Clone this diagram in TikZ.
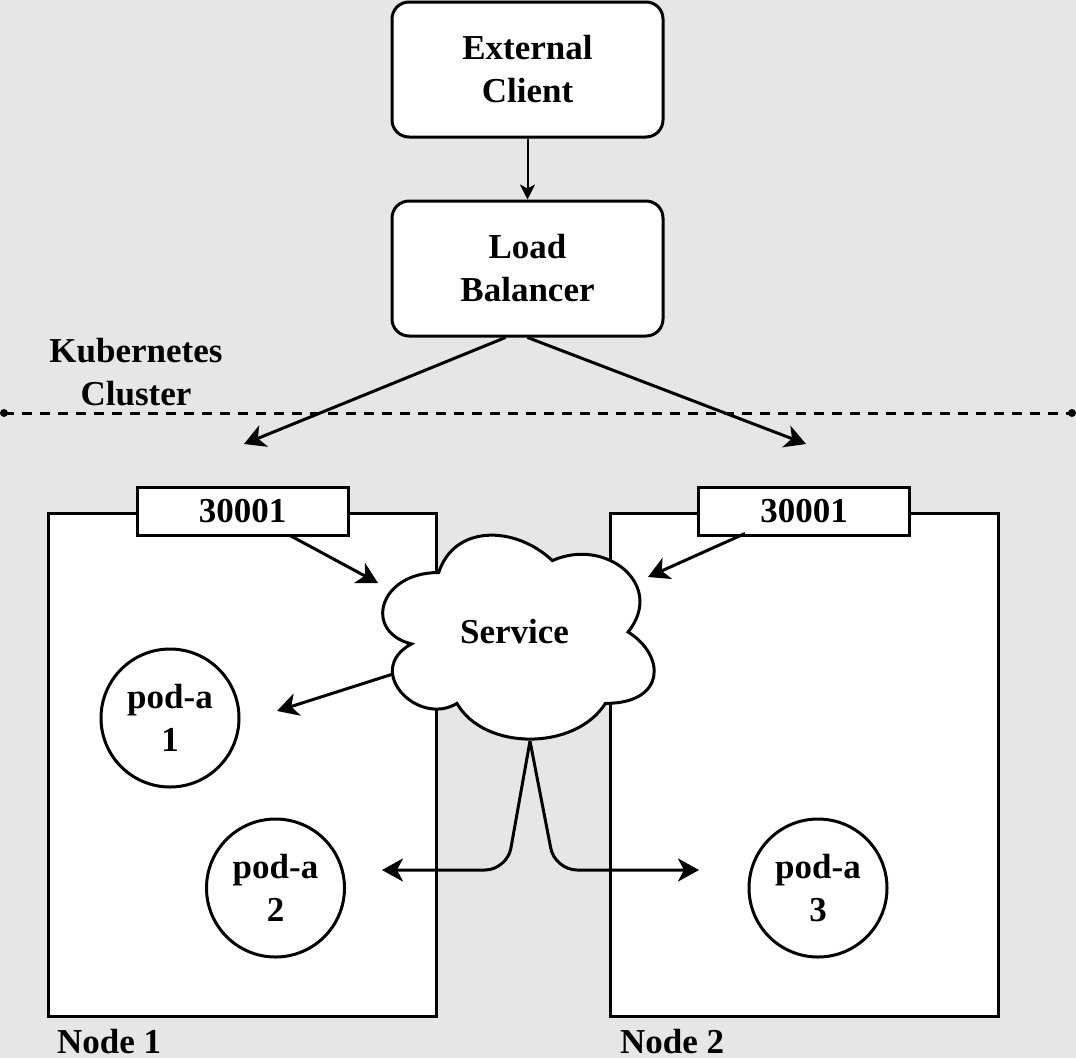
\documentclass[tikz,border=0pt]{standalone}
\usepackage{fontspec}
\setmainfont{Liberation Serif}
\usetikzlibrary{arrows.meta}
\definecolor{bgc}{HTML}{E6E6E6}
\begin{document}
\begin{tikzpicture}[x=1pt,y=-1pt,
  txt/.style={font=\fontsize{35}{43}\selectfont\bfseries, align=center, inner sep=0pt},
  box/.style={draw, line width=3pt, fill=white},
  rbox/.style={box, txt, rounded corners=17pt, minimum width=271pt, minimum height=135pt},
  nodebox/.style={box, minimum width=388pt, minimum height=503pt},
  portbox/.style={box, txt, minimum width=211pt, minimum height=48pt},
  pod/.style={box, txt, circle, minimum size=138pt},
  arr/.style={line width=3pt, -{Stealth[length=21pt,width=23pt,inset=6pt]}},
  thinarr/.style={line width=2pt, -{Stealth[length=15pt,width=15pt,inset=4pt]}},
  lbl/.style={txt, anchor=base west}]
\useasboundingbox (0,0) rectangle (1076,1058);
\fill[bgc] (0,0) rectangle (1076,1058);

% top boxes
\node[rbox] (ec) at (527.5,69.5) {External\\Client};
\node[rbox] (lb) at (527.5,268.5) {Load\\Balancer};
\draw[thinarr] (ec.south) -- (lb.north);

% cluster label and boundary
\node[txt] (kc) at (136,372) {Kubernetes\\Cluster};
\coordinate (dl) at (4,413);
\coordinate (dr) at (1072,413);
\draw[line width=3pt, dash pattern=on 10pt off 8pt] (dl) -- (dr);
\fill (dl) circle (4pt);
\fill (dr) circle (4pt);

% worker nodes
\node[nodebox] (n1) at (242,764.5) {};
\node[nodebox] (n2) at (804.5,764.5) {};
\node[lbl] (n1l) at (57,1053) {Node 1};
\node[lbl] (n2l) at (620,1053) {Node 2};

% node ports
\node[portbox] (p1) at (242.5,511) {30001};
\node[portbox] (p2) at (804,511) {30001};

% pods
\node[pod] (pa1) at (170,718) {pod-a\\1};
\node[pod] (pa2) at (275.5,888) {pod-a\\2};
\node[pod] (pa3) at (818,888) {pod-a\\3};

% service cloud
\draw[box] (438.75,572.5)
  .. controls (378.15,572.5) and (363,632) .. (411.48,643.9)
  .. controls (363,670.08) and (417.54,727.2) .. (456.93,703.4)
  .. controls (484.2,751) and (575.1,751) .. (605.4,703.4)
  .. controls (666,703.4) and (666,655.8) .. (628.125,632)
  .. controls (666,584.4) and (605.4,536.8) .. (552.375,560.6)
  .. controls (514.5,524.9) and (453.9,524.9) .. cycle;
\node[txt] (svc) at (514.5,632) {Service};

% connector end points
\coordinate (n1in) at (244,444);
\coordinate (n2in) at (806,444);
\coordinate (svcL) at (378,583);
\coordinate (svcR) at (648,577);
\coordinate (svcW) at (393,674);
\coordinate (svcB) at (530,741);
\coordinate (pa1in) at (277,711);
\coordinate (pa2in) at (382,870);
\coordinate (pa3in) at (699,870);

% connectors
\draw[arr] ([xshift=-22pt]lb.south) -- (n1in);
\draw[arr] (lb.south) -- (n2in);
\draw[arr] ([xshift=47.5pt,yshift=1pt]p1.south) -- (svcL);
\draw[arr] ([xshift=-59pt,yshift=3pt]p2.south) -- (svcR);
\draw[arr] (svcW) -- (pa1in);
\draw[arr, rounded corners=22pt] (svcB) -- (507,870) -- (pa2in);
\draw[arr, rounded corners=22pt] (svcB) -- (555,870) -- (pa3in);
\end{tikzpicture}
\end{document}
